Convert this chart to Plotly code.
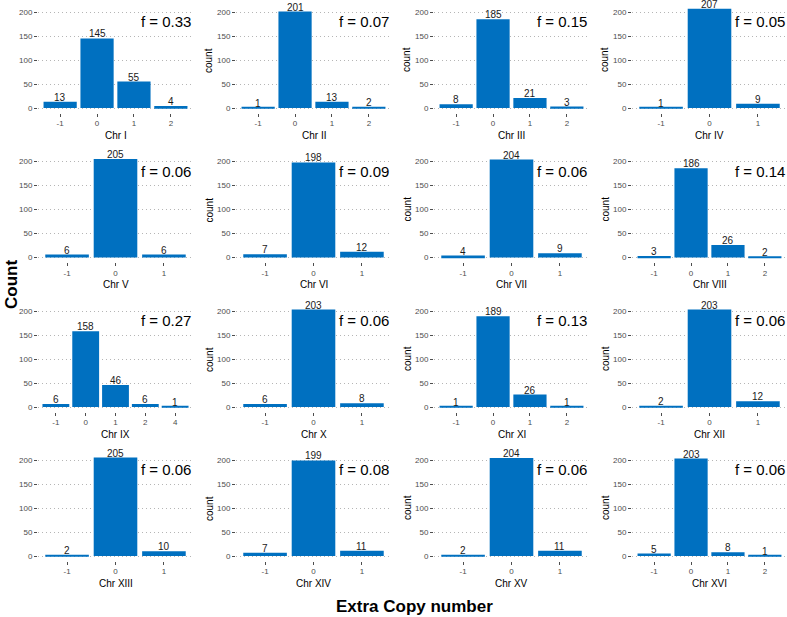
import plotly.graph_objects as go

W, H = 787, 617

chroms = ["Chr I", "Chr II", "Chr III", "Chr IV",
          "Chr V", "Chr VI", "Chr VII", "Chr VIII",
          "Chr IX", "Chr X", "Chr XI", "Chr XII",
          "Chr XIII", "Chr XIV", "Chr XV", "Chr XVI"]

copy_numbers = [
    ["-1", "0", "1", "2"], ["-1", "0", "1", "2"], ["-1", "0", "1", "2"], ["-1", "0", "1"],
    ["-1", "0", "1"], ["-1", "0", "1"], ["-1", "0", "1"], ["-1", "0", "1", "2"],
    ["-1", "0", "1", "2", "4"], ["-1", "0", "1"], ["-1", "0", "1", "2"], ["-1", "0", "1"],
    ["-1", "0", "1"], ["-1", "0", "1"], ["-1", "0", "1"], ["-1", "0", "1", "2"],
]

counts = [
    [13, 145, 55, 4], [1, 201, 13, 2], [8, 185, 21, 3], [1, 207, 9],
    [6, 205, 6], [7, 198, 12], [4, 204, 9], [3, 186, 26, 2],
    [6, 158, 46, 6, 1], [6, 203, 8], [1, 189, 26, 1], [2, 203, 12],
    [2, 205, 10], [7, 199, 11], [2, 204, 11], [5, 203, 8, 1],
]

f_values = ["0.33", "0.07", "0.15", "0.05",
            "0.06", "0.09", "0.06", "0.14",
            "0.27", "0.06", "0.13", "0.06",
            "0.06", "0.08", "0.06", "0.06"]

BLUE = "#0070C0"
FONT = "Liberation Sans, Arial, Helvetica, sans-serif"
YMIN, YMAX = -10, 217
PX_PER_UNIT = 0.48

col_left = [38, 236, 434, 632]
panel_w = 155
row_zero = [108, 257.5, 407, 556]  # pixel y of count = 0


def px_x(x):
    return x / W


def px_y(y):
    return 1 - y / H


fig = go.Figure()
annotations = []

for i, name in enumerate(chroms):
    r, c = divmod(i, 4)
    k = "" if i == 0 else str(i + 1)
    cats = copy_numbers[i]
    vals = counts[i]
    fig.add_trace(go.Bar(
        x=cats, y=vals, xaxis="x" + k, yaxis="y" + k,
        marker=dict(color=BLUE, line=dict(width=0)),
        width=0.9, showlegend=False, hoverinfo="x+y",
    ))
    # count labels sitting on top of each bar (category axis -> index position)
    for j, v in enumerate(vals):
        annotations.append(dict(
            x=j, y=v, xref="x" + k, yref="y" + k,
            text=str(v), showarrow=False, xanchor="center", yanchor="bottom",
            yshift=-3, font=dict(size=10, color="#1a1a1a", family=FONT),
        ))

    left = col_left[c]
    right = left + panel_w
    y0 = row_zero[r]
    top = y0 - YMAX * PX_PER_UNIT
    bottom = y0 - YMIN * PX_PER_UNIT

    fig.update_layout({
        "xaxis" + k: dict(
            domain=[px_x(left), px_x(right)], anchor="y" + k,
            type="category", categoryorder="array", categoryarray=cats,
            range=[-0.6, len(cats) - 0.4],
            showgrid=False, zeroline=False, showline=False,
            ticks="outside", ticklen=3, tickcolor="#4d4d4d", tickwidth=1,
            tickfont=dict(size=8, color="#4d4d4d", family=FONT),
        ),
        "yaxis" + k: dict(
            domain=[px_y(bottom), px_y(top)], anchor="x" + k,
            range=[YMIN, YMAX], tickvals=[0, 50, 100, 150, 200],
            showgrid=True, gridcolor="#b5b5b5", griddash="1px,3px", gridwidth=1,
            zeroline=False, showline=False,
            ticks="outside", ticklen=3, tickcolor="#4d4d4d", tickwidth=1,
            tickfont=dict(size=8, color="#4d4d4d", family=FONT),
        ),
    })

    annotations.append(dict(
        x=px_x(right), y=px_y(y0 - 180 * PX_PER_UNIT), xref="paper", yref="paper",
        text="f = " + f_values[i], showarrow=False, xanchor="right", yanchor="middle",
        font=dict(size=15, color="black", family=FONT),
    ))
    annotations.append(dict(
        x=px_x((left + right) / 2), y=px_y(y0 + 27), xref="paper", yref="paper",
        text=name, showarrow=False, xanchor="center", yanchor="middle",
        font=dict(size=10, color="black", family=FONT),
    ))
    if c > 0:
        annotations.append(dict(
            x=px_x(left - 27), y=px_y(y0 - 100 * PX_PER_UNIT), xref="paper", yref="paper",
            text="count", showarrow=False, textangle=-90,
            xanchor="center", yanchor="middle",
            font=dict(size=10, color="black", family=FONT),
        ))

annotations.append(dict(
    x=px_x(11), y=px_y(285), xref="paper", yref="paper",
    text="<b>Count</b>", showarrow=False, textangle=-90,
    xanchor="center", yanchor="middle",
    font=dict(size=17, color="black", family=FONT),
))
annotations.append(dict(
    x=px_x(414), y=px_y(606), xref="paper", yref="paper",
    text="<b>Extra Copy number</b>", showarrow=False,
    xanchor="center", yanchor="middle",
    font=dict(size=17, color="black", family=FONT),
))

fig.update_layout(
    width=W, height=H,
    margin=dict(l=0, r=0, t=0, b=0),
    paper_bgcolor="white", plot_bgcolor="white",
    annotations=annotations,
    font=dict(family=FONT),
)

# page body has a default 8px margin; drop it so the figure fills the window
fig.write_html("out.html", config={"displayModeBar": False},
               post_script="document.body.style.margin = '0';")
